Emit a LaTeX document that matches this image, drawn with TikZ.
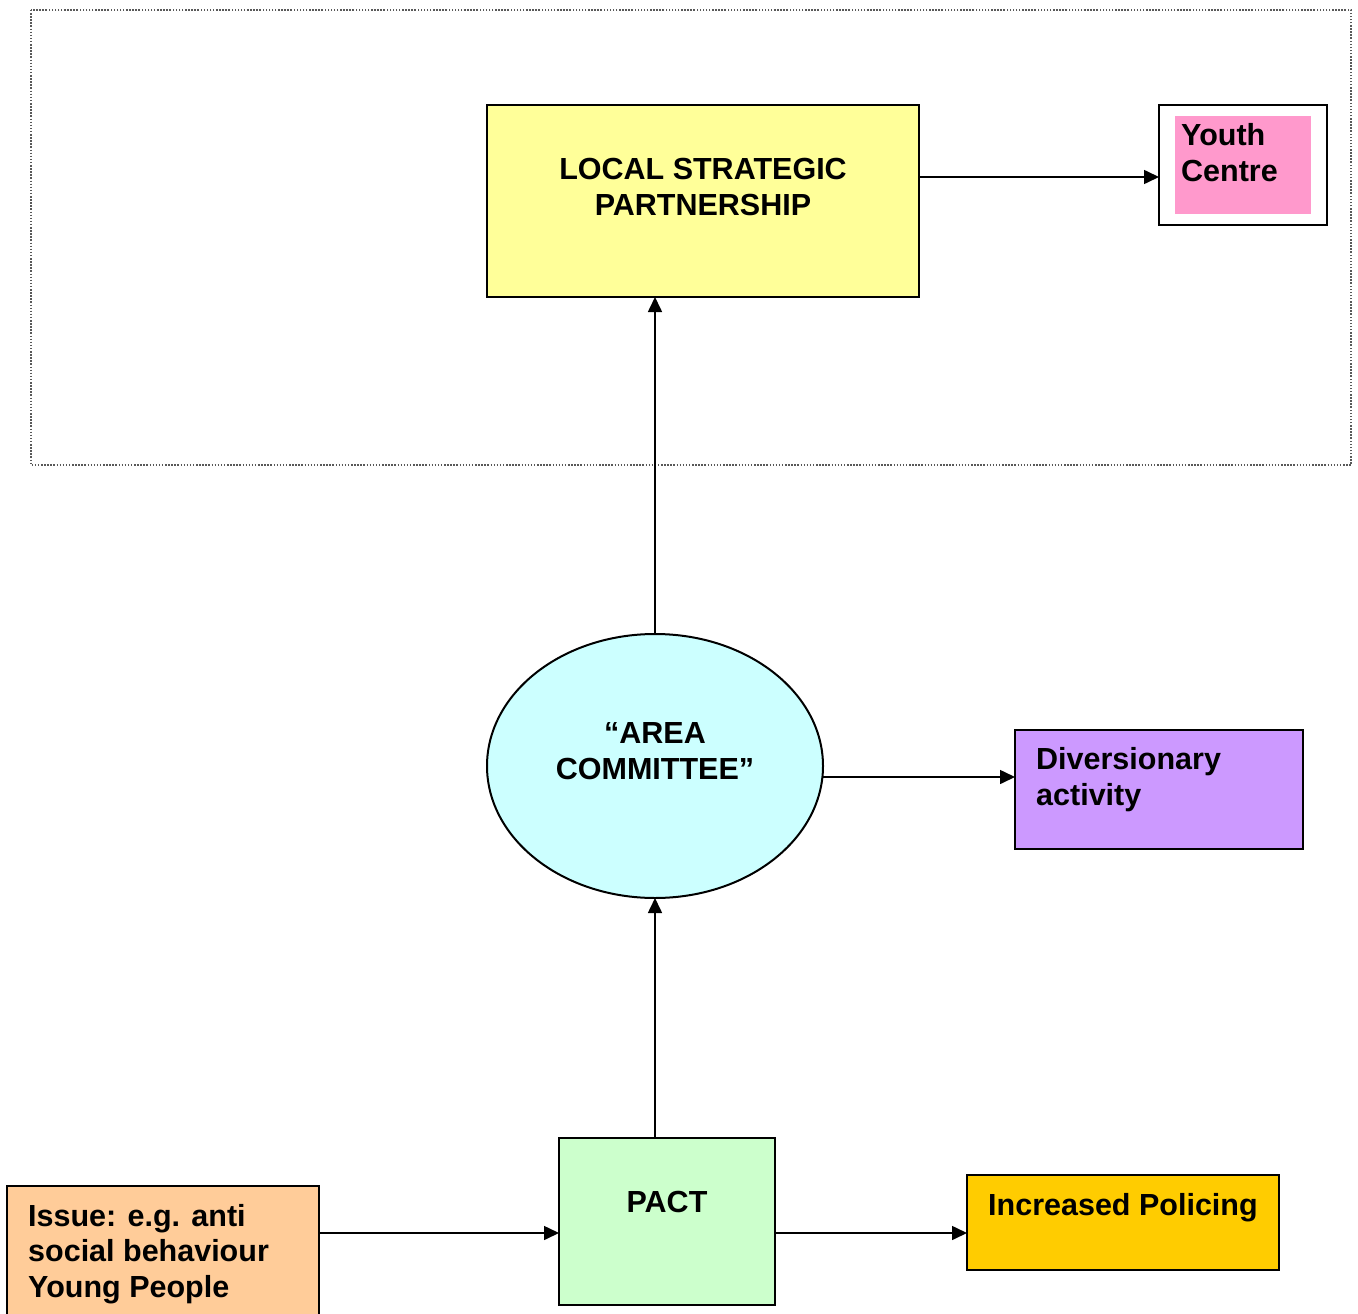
\documentclass[tikz,border=0pt]{standalone}
\usepackage{fontspec}
\setmainfont{Liberation Sans}
\usetikzlibrary{arrows.meta,shapes.geometric}
\definecolor{lspyellow}{HTML}{FFFF99}
\definecolor{ycpink}{HTML}{FF99CC}
\definecolor{acblue}{HTML}{CCFFFF}
\definecolor{divpurple}{HTML}{CC99FF}
\definecolor{pactgreen}{HTML}{CCFFCC}
\definecolor{issueorange}{HTML}{FFCC99}
\definecolor{policegold}{HTML}{FFCC00}
\begin{document}
\begin{tikzpicture}[x=1pt,y=-1pt,
  box/.style={draw=black,line width=2pt,inner sep=0pt,outer sep=0pt,rectangle},
  lbl/.style={inner sep=0pt,font=\bfseries\fontsize{30.5}{36}\selectfont},
  arr/.style={line width=1.6pt,-{Triangle[length=15pt,width=14pt]}}]
\useasboundingbox (0,0) rectangle (1358,1314);
% dotted frame round the strategic level
\draw[black!65,line width=1.5pt,dash pattern=on 1.5pt off 1.6pt] (31,10) rectangle (1351,465);
% boxes
\node[box,fill=lspyellow,minimum width=432pt,minimum height=192pt] (lsp) at (703,201) {};
\node[box,fill=white,minimum width=168pt,minimum height=120pt] (yc) at (1243,165) {};
\node[inner sep=0pt,outer sep=0pt,fill=ycpink,minimum width=136pt,minimum height=98pt] (ycin) at (1243,165) {};
\node[draw=black,line width=2pt,ellipse,inner sep=0pt,outer sep=0pt,fill=acblue,minimum width=336pt,minimum height=264pt] (ac) at (655,766) {};
\node[box,fill=divpurple,minimum width=288pt,minimum height=119pt] (div) at (1159,789.5) {};
\node[box,fill=pactgreen,minimum width=216pt,minimum height=167pt] (pact) at (667,1221.5) {};
\node[box,fill=issueorange,minimum width=312pt,minimum height=134pt] (issue) at (163,1253) {};
\node[box,fill=policegold,minimum width=312pt,minimum height=95pt] (inc) at (1123,1222.5) {};
% texts
\node[lbl,align=center,anchor=north] (lsptxt) at (703,158.5) {LOCAL STRATEGIC\\PARTNERSHIP};
\node[lbl,align=left,anchor=north west] (yctxt) at (1181,123) {Youth\\Centre};
\node[lbl,align=center,anchor=north] (actxt) at (655,722) {“AREA\\COMMITTEE”};
\node[lbl,align=left,anchor=north west] (divtxt) at (1036,747.5) {Diversionary\\activity};
\node[lbl] (pacttxt) at (667,1202) {PACT};
\node[lbl,align=left,anchor=north west,font=\bfseries\fontsize{30.5}{35.5}\selectfont] (issuetxt) at (28,1204) {Issue: e.g. anti\\social behaviour\\Young People};
\node[lbl,anchor=north west] (inctxt) at (988,1193) {Increased Policing};
% connectors
\draw[arr] ([yshift=24pt]lsp.east) -- ([yshift=24pt]lsp.east -| yc.west);
\draw[arr] (ac.north) -- (ac.north |- lsp.south);
\draw[arr] ([yshift=-11pt]ac.east) -- ([yshift=-11pt]ac.east -| div.west);
\draw[arr] (pact.north -| ac.south) -- (ac.south);
\draw[arr] ([yshift=20pt]issue.east) -- ([yshift=20pt]issue.east -| pact.west);
\draw[arr] ([yshift=-11.5pt]pact.east) -- ([yshift=-11.5pt]pact.east -| inc.west);
\end{tikzpicture}
\end{document}
